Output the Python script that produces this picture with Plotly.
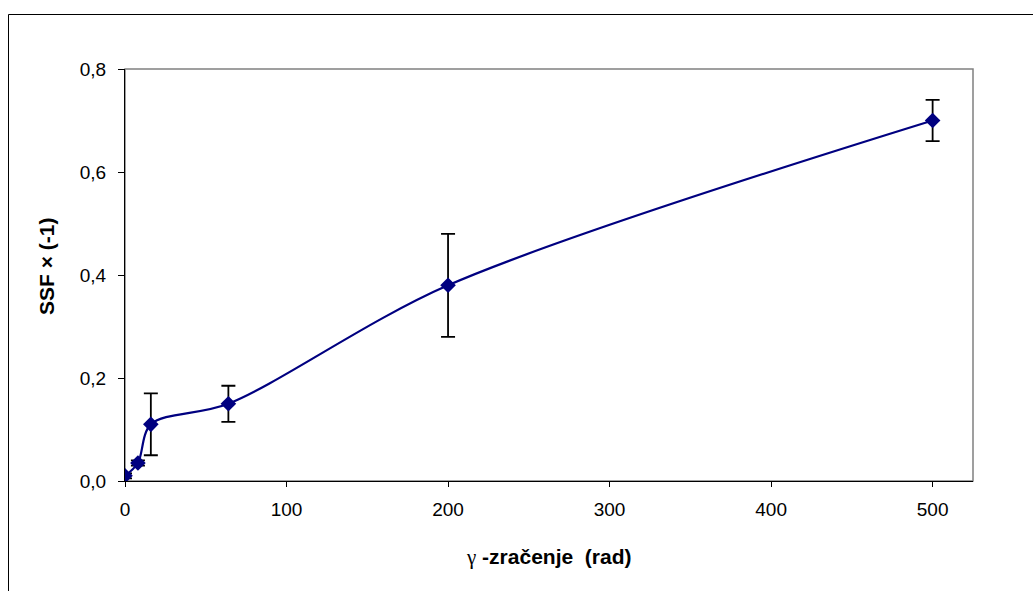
import plotly.graph_objects as go

# Dose (rad) and SSF × (-1) with standard deviations
doza = [0, 8, 16, 64, 200, 500]
ssf = [0.01, 0.035, 0.11, 0.15, 0.38, 0.70]
sd = [0.005, 0.005, 0.06, 0.035, 0.10, 0.04]

x_ticks = [0, 100, 200, 300, 400, 500]
y_ticks = [0.0, 0.2, 0.4, 0.6, 0.8]

W, H = 1033, 591
L, R, T, B = 125, 60, 69, 110
pw, ph = W - L - R, H - T - B

def px_to_paper_x(px):
    return (px - L) / pw

def px_to_paper_y(py):
    return (H - B - py) / ph

fig = go.Figure()
fig.add_trace(go.Scatter(
    x=doza, y=ssf,
    mode="lines+markers",
    line=dict(color="#000080", width=2.2, shape="spline", smoothing=0.9),
    marker=dict(symbol="diamond", size=12, color="#000080"),
    error_y=dict(type="data", array=sd, visible=True,
                 color="black", thickness=1.8, width=7),
    showlegend=False,
))

font = "Liberation Sans, Arial, sans-serif"

fig.update_layout(
    width=W, height=H,
    margin=dict(l=L, r=R, t=T, b=B),
    paper_bgcolor="white", plot_bgcolor="white",
    separators=",.",
    font=dict(family=font, size=19, color="black"),
    xaxis=dict(range=[0, 525], tickvals=x_ticks, ticks="outside",
               ticklen=5, tickcolor="black", showgrid=False, zeroline=False,
               showline=True, linecolor="black", linewidth=1,
               ticklabelstandoff=6, tickfont=dict(size=19)),
    yaxis=dict(range=[0, 0.8], tickvals=y_ticks, tickformat=".1f",
               ticks="outside", ticklen=6, tickcolor="black",
               showgrid=False, zeroline=False,
               showline=True, linecolor="black", linewidth=1,
               ticklabelstandoff=8, tickfont=dict(size=19)),
    shapes=[
        # plot-area frame (gray)
        dict(type="rect", xref="paper", yref="paper", x0=0, y0=0, x1=1, y1=1,
             line=dict(color="#808080", width=1.5), layer="below"),
        # outer chart frame
        dict(type="rect", xref="paper", yref="paper",
             x0=px_to_paper_x(8.5), y0=px_to_paper_y(600),
             x1=px_to_paper_x(1045), y1=px_to_paper_y(14.5),
             line=dict(color="black", width=1)),
    ],
    annotations=[
        dict(text="<span style=\"font-family:Liberation Serif\">γ</span>"
                  "<b> -zračenje  (rad)</b>",
             xref="paper", yref="paper",
             x=0.5, y=px_to_paper_y(557), showarrow=False,
             font=dict(size=21, family=font), xanchor="center", yanchor="middle"),
        dict(text="<b>SSF × (-1)</b>", xref="paper", yref="paper",
             x=px_to_paper_x(46), y=px_to_paper_y(267), showarrow=False,
             textangle=-90,
             font=dict(size=21, family=font), xanchor="center", yanchor="middle"),
    ],
)

fig.write_html("out.html")
